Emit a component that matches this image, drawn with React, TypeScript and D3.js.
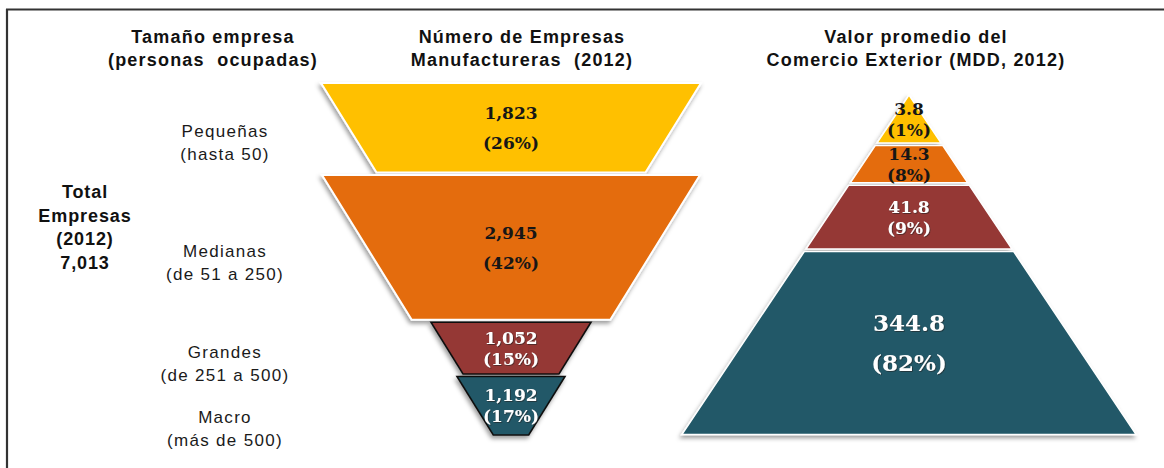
import React, { useEffect, useRef } from 'react';
import * as d3 from 'd3';

// ---- data ----
const sizeNames = ['Pequeñas', 'Medianas', 'Grandes', 'Macro'];
const sizeRanges = ['(hasta 50)', '(de 51 a 250)', '(de 251 a 500)', '(más de 500)'];
const empresas = [1823, 2945, 1052, 1192];
const empresasPct = ['26%', '42%', '15%', '17%'];
const comercio = [3.8, 14.3, 41.8, 344.8];
const comercioPct = ['1%', '8%', '9%', '82%'];
const totalLines = ['Total', 'Empresas', '(2012)', '7,013'];
const headerLeft = ['Tamaño empresa', '(personas  ocupadas)'];
const headerMid = ['Número de Empresas', 'Manufactureras  (2012)'];
const headerRight = ['Valor promedio del', 'Comercio Exterior (MDD, 2012)'];

// ---- style ----
const bandColors = ['#FFC000', '#E46C0A', '#953735', '#215968'];
const textColors = ['#161616', '#161616', '#ffffff', '#ffffff'];
const sans = '"Liberation Sans", Arial, sans-serif';
const serif = '"DejaVu Serif", "Liberation Serif", serif';

const W = 1164, H = 468;

function App() {
  const ref = useRef<SVGSVGElement | null>(null);

  useEffect(() => {
    const svg = d3.select(ref.current);
    svg.selectAll('*').remove();

    const defs = svg.append('defs');
    defs.append('filter').attr('id', 'shadow').attr('x', '-20%').attr('y', '-20%').attr('width', '140%').attr('height', '150%')
      .append('feDropShadow').attr('dx', -1.5).attr('dy', 3).attr('stdDeviation', 2)
      .attr('flood-color', '#000').attr('flood-opacity', 0.38);
    defs.append('filter').attr('id', 'txtShadow')
      .append('feDropShadow').attr('dx', 0.8).attr('dy', 0.8).attr('stdDeviation', 0.6)
      .attr('flood-color', '#222').attr('flood-opacity', 0.7);

    // frame
    svg.append('line').attr('x1', 6).attr('x2', W).attr('y1', 9.5).attr('y2', 9.5)
      .attr('stroke', '#333').attr('stroke-width', 2.2);
    svg.append('line').attr('x1', 7).attr('x2', 7).attr('y1', 9).attr('y2', H)
      .attr('stroke', '#333').attr('stroke-width', 2.2);

    const header = (lines: string[], x: number) => {
      lines.forEach((t, i) => {
        svg.append('text').attr('x', x).attr('y', 43 + i * 23)
          .attr('text-anchor', 'middle').attr('font-family', sans).attr('font-weight', 700)
          .attr('font-size', 18).attr('letter-spacing', 1.2).attr('fill', '#111')
          .style('white-space', 'pre').text(t);
      });
    };
    header(headerLeft, 213);
    header(headerMid, 522);
    header(headerRight, 916);

    const line = d3.line();

    // ---- funnel (number of companies) ----
    const fTop = 83, fBottom = 435, fGap = 2.5, fCx = 511;
    const fSlope = 0.62;
    const fTopHalf = [190, 189, 80, 54];
    const total = d3.sum(empresas);
    const fH = d3.scaleLinear().domain([0, total]).range([0, fBottom - fTop - fGap * (empresas.length - 1)]);
    let cy = fTop;
    const fBands = empresas.map((v, i) => {
      const h = fH(v);
      const b = { i, v, top: cy, h };
      cy += h + fGap;
      return b;
    });

    const fg = svg.append('g');
    fBands.forEach(b => {
      const t = fTopHalf[b.i], bt = t - fSlope * b.h;
      const pts: [number, number][] = [
        [fCx - t, b.top], [fCx + t, b.top], [fCx + bt, b.top + b.h], [fCx - bt, b.top + b.h]
      ];
      fg.append('path').attr('d', line(pts) + 'Z')
        .attr('fill', bandColors[b.i])
        .attr('stroke', b.i < 2 ? '#fff' : '#111')
        .attr('stroke-width', b.i < 2 ? 2 : 1.6)
        .attr('stroke-linejoin', 'miter')
        .attr('filter', 'url(#shadow)');
    });

    const bandText = (g: any, x: number, c: number, lines: string[], fs: number, gap: number, i: number) => {
      lines.forEach((t, k) => {
        g.append('text').attr('x', x).attr('y', c + (k - 0.5) * gap + fs * 0.36)
          .attr('text-anchor', 'middle').attr('font-family', serif).attr('font-weight', 700)
          .attr('font-size', fs).attr('fill', textColors[i])
          .attr('filter', textColors[i] === '#ffffff' ? 'url(#txtShadow)' : null)
          .text(t);
      });
    };

    fBands.forEach(b => {
      const gap = b.h > 70 ? 30 : 21;
      bandText(fg, fCx, b.top + b.h / 2, [d3.format(',')(b.v), `(${empresasPct[b.i]})`], 17, gap, b.i);
    });

    // size labels to the left of the funnel
    fBands.forEach(b => {
      const c = b.top + b.h / 2 + 15 + (b.i === 3 ? 8 : 0);
      [sizeNames[b.i], sizeRanges[b.i]].forEach((t, k) => {
        svg.append('text').attr('x', 225).attr('y', c + (k - 0.5) * 23 + 6)
          .attr('text-anchor', 'middle').attr('font-family', sans).attr('font-size', 17)
          .attr('letter-spacing', 1.3).attr('fill', '#1a1a1a').text(t);
      });
    });

    totalLines.forEach((t, k) => {
      svg.append('text').attr('x', 85).attr('y', 198 + k * 23.5)
        .attr('text-anchor', 'middle').attr('font-family', sans).attr('font-weight', 700)
        .attr('font-size', 18).attr('letter-spacing', 0.9).attr('fill', '#111').text(t);
    });

    // ---- pyramid (foreign trade value) ----
    const pApex = 95, pBase = 435, pCx = 909, pHalfBase = 227.5, pGap = 2.5, pMinH = 48;
    const pHalf = d3.scaleLinear().domain([pApex, pBase]).range([0, pHalfBase]);
    const pH = d3.scaleSqrt().domain([0, d3.max(comercio) as number]).range([0, 183]);
    let py = pApex;
    const pBands = comercio.map((v, i) => {
      const h = Math.max(pH(v), pMinH * (i === 0 ? 1 : 0));
      const b = { i, v, top: py, h };
      py += h + pGap;
      return b;
    });
    const pg = svg.append('g');
    pBands.forEach(b => {
      const t = pHalf(b.top), bt = pHalf(b.top + b.h);
      const pts: [number, number][] = [
        [pCx - t, b.top], [pCx + t, b.top], [pCx + bt, b.top + b.h], [pCx - bt, b.top + b.h]
      ];
      pg.append('path').attr('d', line(pts) + 'Z')
        .attr('fill', bandColors[b.i]).attr('stroke', '#fff').attr('stroke-width', 1.5)
        .attr('filter', 'url(#shadow)');
    });
    pBands.forEach(b => {
      const big = b.h > 150;
      const fs = big ? 23 : 17;
      const gap = big ? 40 : 21;
      bandText(pg, pCx, b.top + b.h / 2, [d3.format('.1f')(b.v), `(${comercioPct[b.i]})`], fs, gap, b.i);
    });
  }, []);

  return (
    <svg ref={ref} width={W} height={H} style={{ position: 'absolute', left: 0, top: 0, background: '#fff' }} />
  );
}

export default App;
